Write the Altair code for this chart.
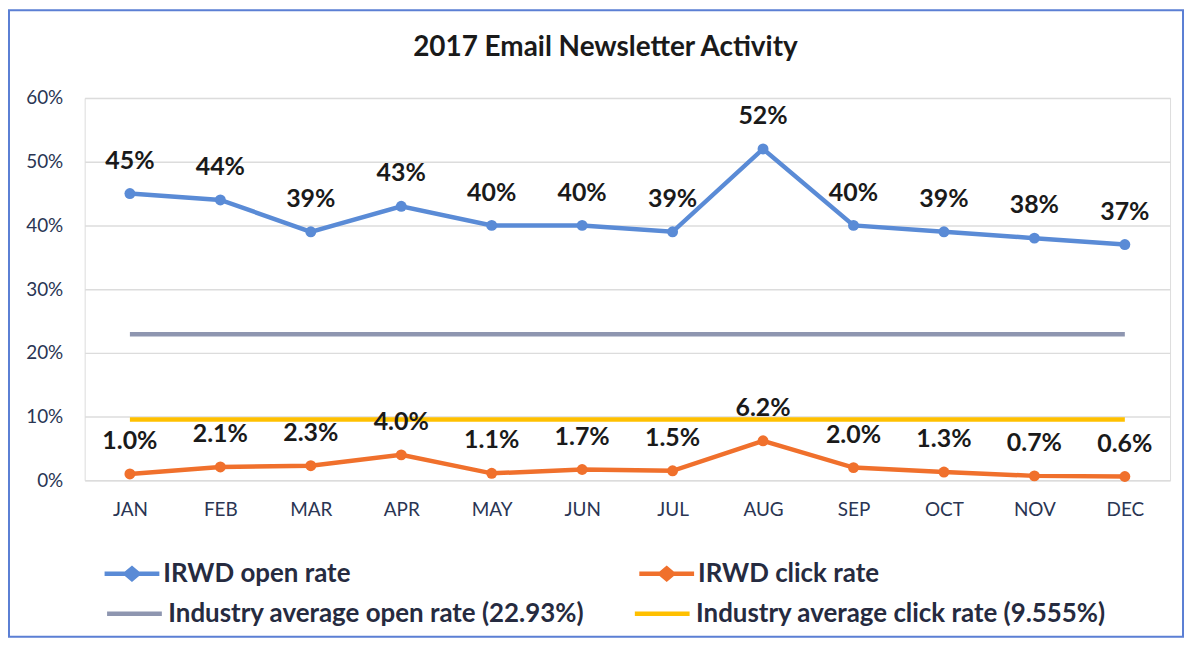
import altair as alt
import pandas as pd

months = ["JAN", "FEB", "MAR", "APR", "MAY", "JUN", "JUL", "AUG", "SEP", "OCT", "NOV", "DEC"]
open_rate = [45, 44, 39, 43, 40, 40, 39, 52, 40, 39, 38, 37]
click_rate = [1.0, 2.1, 2.3, 4.0, 1.1, 1.7, 1.5, 6.2, 2.0, 1.3, 0.7, 0.6]
industry_open = 22.93
industry_click = 9.555
irwd_names = ["IRWD open rate", "IRWD click rate"]
irwd_colors = ["#5a8bd6", "#f0702c"]
ind_names = ["Industry average open rate (22.93%)", "Industry average click rate (9.555%)"]
ind_colors = ["#8e96b0", "#ffc000"]

irwd_rows, ind_rows = [], []
for m, o, c in zip(months, open_rate, click_rate):
    irwd_rows.append({"month": m, "series": irwd_names[0], "value": o / 100, "label": f"{o:.0f}%"})
    irwd_rows.append({"month": m, "series": irwd_names[1], "value": c / 100, "label": f"{c:.1f}%"})
    ind_rows.append({"month": m, "series": ind_names[0], "value": industry_open / 100})
    ind_rows.append({"month": m, "series": ind_names[1], "value": industry_click / 100})
irwd_df = pd.DataFrame(irwd_rows)
ind_df = pd.DataFrame(ind_rows)

FONT = "Lato"
W, H = 1090, 384

x_enc = alt.X("month:N", sort=months, scale=alt.Scale(type="point", padding=0.5),
              axis=alt.Axis(title=None, labelAngle=0, ticks=False, domain=False, grid=False,
                            labelFont=FONT, labelFontSize=19, labelColor="#2a3553", labelPadding=20))
y_enc = alt.Y("value:Q", scale=alt.Scale(domain=[0, 0.6], nice=False),
              axis=alt.Axis(title=None, format=".0%", values=[0, 0.1, 0.2, 0.3, 0.4, 0.5, 0.6],
                            ticks=False, domain=False, gridColor="#dcdcdc", gridWidth=1.5,
                            labelFont=FONT, labelFontSize=19, labelColor="#2a3553", labelPadding=22))

irwd_scale = alt.Scale(domain=irwd_names, range=irwd_colors)
ind_scale = alt.Scale(domain=ind_names, range=ind_colors)

# fill-only legend glyph: thin bar with a diamond marker in the middle
marker_path = ("M-1,-0.08L-0.26,-0.08L0,-0.3L0.26,-0.08L1,-0.08L1,0.08L0.26,0.08"
               "L0,0.3L-0.26,0.08L-1,0.08Z")

common_legend = dict(title=None, orient="none", direction="horizontal",
                     labelFont=FONT, labelFontSize=26, labelFontWeight="bold",
                     labelColor="#262b40", labelLimit=800, labelOffset=4,
                     symbolSize=3025)

legend_irwd = alt.Legend(legendX=20, legendY=450, columnPadding=289,
                         symbolType=marker_path, symbolStrokeWidth=0, **common_legend)
legend_ind = alt.Legend(legendX=20, legendY=488, columnPadding=41,
                        symbolType="stroke", symbolStrokeWidth=4.5, **common_legend)

irwd = alt.Chart(irwd_df)
ind = alt.Chart(ind_df)

ind_lines = ind.mark_line(strokeWidth=4.5).encode(
    x=x_enc, y=y_enc,
    color=alt.Color("series:N", scale=ind_scale, sort=ind_names, legend=legend_ind),
)

irwd_lines = irwd.mark_line(strokeWidth=4.5).encode(
    x=x_enc, y=y_enc,
    color=alt.Color("series:N", scale=irwd_scale, sort=irwd_names, legend=None),
)

irwd_points = irwd.mark_point(filled=True, size=120, opacity=1).encode(
    x=x_enc, y=y_enc,
    color=alt.Color("series:N", scale=irwd_scale, sort=irwd_names, legend=legend_irwd),
)

labels = irwd.mark_text(
    font=FONT, fontSize=25, fontWeight="bold", color="#1a1a1a", dy=-33, baseline="middle").encode(
    x=x_enc, y=y_enc, text="label:N",
)

border = alt.Chart(pd.DataFrame({"a": [0]})).mark_rect(
    fill=None, stroke="#5b7fd4", strokeWidth=2).encode(
    x=alt.value(-76), x2=alt.value(1103), y=alt.value(-88), y2=alt.value(541),
)

chart = alt.layer(ind_lines, irwd_lines, irwd_points, labels, border).resolve_scale(
    color="independent"
).properties(
    width=W, height=H,
    autosize=alt.AutoSizeParams(type="none"),
    padding={"left": 77, "top": 89, "right": 15, "bottom": 159},
    title=alt.TitleParams("2017 Email Newsletter Activity", font=FONT, fontSize=28, fontWeight="bold",
                          color="#1a1a1a", anchor="middle", offset=-53, dx=-22),
).configure_view(stroke=None).configure(background="white")

chart.save("out.html", embed_options={"renderer": "svg", "actions": False})
